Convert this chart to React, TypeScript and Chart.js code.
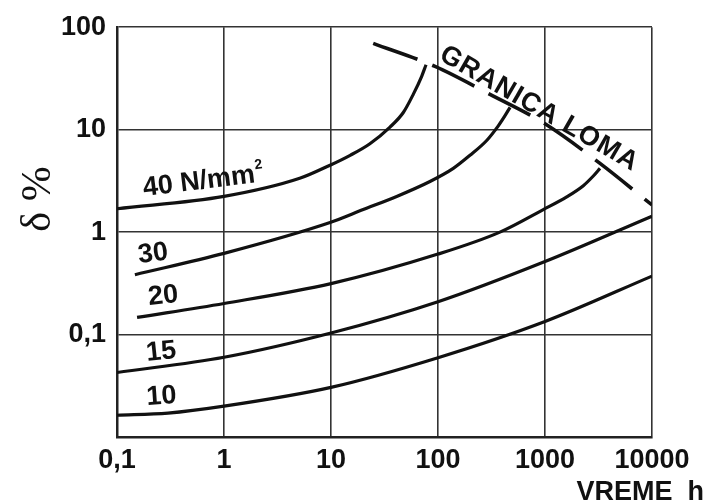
import React, { useEffect, useRef } from 'react';
import { Chart, registerables } from 'chart.js';

Chart.register(...registerables);

// Axis ticks
const xTickValues = [0.1, 1, 10, 100, 1000, 10000];
const xTickLabels = ['0,1', '1', '10', '100', '1000', '10000'];
const yTickValues = [0.01, 0.1, 1, 10, 100];
const yTickLabels = ['', '0,1', '1', '10', '100'];

// Creep curves (time h -> strain %)
const curve10Time = [0.1, 0.3, 1, 10, 100, 1000, 10000];
const curve10Strain = [0.0163, 0.0171, 0.02, 0.0305, 0.0594, 0.134, 0.372];

const curve15Time = [0.1, 1, 10, 100, 1000, 10000];
const curve15Strain = [0.0426, 0.06, 0.1035, 0.209, 0.516, 1.43];

const curve20Time = [0.154, 1, 10, 100, 379, 964, 1596, 2281, 2828, 3266];
const curve20Strain = [0.147, 0.201, 0.314, 0.61, 1.0, 1.66, 2.21, 2.84, 3.53, 4.19];

const curve30Time = [0.147, 1, 9.8, 20, 41.1, 84.1, 139, 199, 285, 366, 423, 471];
const curve30Strain = [0.384, 0.62, 1.24, 1.66, 2.23, 3.12, 4.19, 5.62, 7.84, 10.9, 13.7, 16.5];

const curve40Time = [0.1, 1, 5.1, 9.8, 15.1, 23.1, 35.6, 47.4, 58.7, 70.4, 77.3];
const curve40Strain = [1.69, 2.23, 3.35, 4.5, 5.62, 7.29, 10.6, 14.7, 22.1, 33.2, 43.0];

// Rupture limit ("GRANICA LOMA")
const limitTime = [24.8, 93.8, 306, 1000, 3266, 10000];
const limitStrain = [69.6, 41.4, 22.1, 11.4, 4.68, 1.84];

const curveLabels = ['10', '15', '20', '30', '40 N/mm'];
const limitLabel = 'GRANICA LOMA';
const xTitle = 'VREME  h';
const yTitle = 'δ %';

const toPts = (xs: number[], ys: number[]) => xs.map((x, i) => ({ x, y: ys[i] }));

const SANS = '"Liberation Sans", Arial, sans-serif';

const annotPlugin = {
  id: 'annot',
  afterDraw(chart: any) {
    const ctx = chart.ctx as CanvasRenderingContext2D;
    ctx.save();
    ctx.fillStyle = '#111';
    const drawRot = (text: string, x: number, y: number, deg: number, font: string, align: CanvasTextAlign = 'left') => {
      ctx.save();
      ctx.translate(x, y);
      ctx.rotate((deg * Math.PI) / 180);
      ctx.font = font;
      ctx.textAlign = align;
      ctx.textBaseline = 'alphabetic';
      ctx.fillText(text, 0, 0);
      ctx.restore();
    };
    const f = `bold 27px ${SANS}`;
    // curve labels
    drawRot(curveLabels[0], 147, 405, -4, f);
    drawRot(curveLabels[1], 147, 361, -6, f);
    drawRot(curveLabels[2], 149, 305, -6, f);
    drawRot(curveLabels[3], 139, 263, -7, f);
    // 40 N/mm2
    ctx.save();
    ctx.translate(144, 196);
    ctx.rotate((-7 * Math.PI) / 180);
    ctx.font = f;
    ctx.textBaseline = 'alphabetic';
    ctx.fillText(curveLabels[4], 0, 0);
    const w = ctx.measureText(curveLabels[4]).width;
    ctx.font = `bold 14px ${SANS}`;
    ctx.fillText('2', w + 1, -13);
    ctx.restore();
    // limit label
    ctx.save();
    ctx.translate(438, 59);
    ctx.rotate((30 * Math.PI) / 180);
    ctx.font = `bold 27px ${SANS}`;
    (ctx as any).letterSpacing = '1px';
    ctx.textBaseline = 'alphabetic';
    ctx.fillText(limitLabel, 0, 0);
    ctx.restore();
    // axis titles
    drawRot(xTitle, 704, 500, 0, `bold 27px ${SANS}`, 'right');
    drawRot(yTitle, 50, 199, -90, `42px "Liberation Serif", "DejaVu Serif", serif`, 'center');
    ctx.restore();
  },
};

export default function App() {
  const ref = useRef<HTMLCanvasElement | null>(null);
  useEffect(() => {
    if (!ref.current) return;
    const lineDs = (xs: number[], ys: number[]) => ({
      data: toPts(xs, ys),
      borderColor: '#111',
      borderWidth: 3.2,
      pointRadius: 0,
      fill: false,
      cubicInterpolationMode: 'monotone' as const,
    });
    const chart = new Chart(ref.current, {
      type: 'line',
      data: {
        datasets: [
          lineDs(curve10Time, curve10Strain),
          lineDs(curve15Time, curve15Strain),
          lineDs(curve20Time, curve20Strain),
          lineDs(curve30Time, curve30Strain),
          lineDs(curve40Time, curve40Strain),
          { ...lineDs(limitTime, limitStrain), borderWidth: 3.6, borderDash: [47, 16] },
        ],
      },
      options: {
        responsive: false,
        animation: false,
        events: [],
        layout: { padding: { left: 0, right: 56, top: 22, bottom: 0 } },
        plugins: { legend: { display: false }, tooltip: { enabled: false } },
        scales: {
          x: {
            type: 'logarithmic',
            min: 0.1,
            max: 10000,
            afterBuildTicks: (s: any) => {
              s.ticks = xTickValues.map((v) => ({ value: v }));
            },
            afterFit: (s: any) => {
              s.height = 65;
            },
            ticks: {
              autoSkip: false,
              maxRotation: 0,
              padding: 7,
              color: '#111',
              font: { family: SANS, size: 27, weight: 'bold' },
              callback: (v: any) => xTickLabels[xTickValues.indexOf(Number(v))] ?? '',
            },
            grid: { color: '#333', lineWidth: 1.6, drawTicks: false, tickLength: 0 },
            border: { display: true, color: '#222', width: 2.5 },
          },
          y: {
            type: 'logarithmic',
            min: 0.01,
            max: 100,
            afterBuildTicks: (s: any) => {
              s.ticks = yTickValues.map((v) => ({ value: v }));
            },
            afterFit: (s: any) => {
              s.width = 117;
            },
            ticks: {
              autoSkip: false,
              padding: 11,
              color: '#111',
              font: { family: SANS, size: 27, weight: 'bold' },
              callback: (v: any) => yTickLabels[yTickValues.indexOf(Number(v))] ?? '',
            },
            grid: { color: '#333', lineWidth: 1.6, drawTicks: false, tickLength: 0 },
            border: { display: true, color: '#222', width: 2.5 },
          },
        },
      },
      plugins: [annotPlugin],
    } as any);
    return () => chart.destroy();
  }, []);
  return (
    <div style={{ position: 'fixed', left: 0, top: 0, width: 708, height: 502, background: '#fff' }}>
      <canvas ref={ref} width={708} height={502} style={{ display: 'block' }} />
    </div>
  );
}
